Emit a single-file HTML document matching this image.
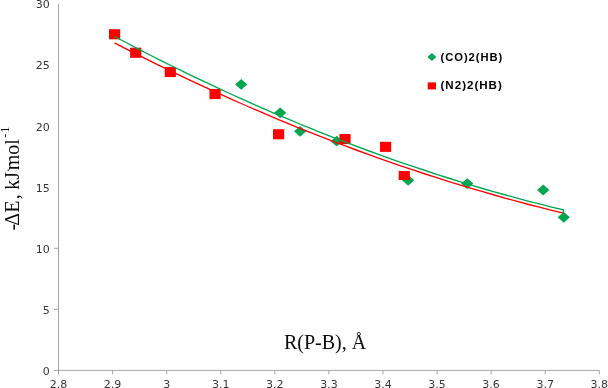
<!DOCTYPE html><html><head><meta charset="utf-8"><title>chart</title><style>html,body{margin:0;padding:0;background:#fff;overflow:hidden}svg{display:block;will-change:transform}</style></head><body>
<svg width="608" height="388" viewBox="0 0 608 388">
<rect width="608" height="388" fill="#fff"/>
<g stroke="#8e8e8e" stroke-width="0.8" fill="none">
<line x1="58.5" y1="4" x2="58.5" y2="370.4"/>
<line x1="58.5" y1="370.4" x2="599.3" y2="370.4"/>
<line x1="58.5" y1="370.4" x2="58.5" y2="374.4"/>
<line x1="112.6" y1="370.4" x2="112.6" y2="374.4"/>
<line x1="166.7" y1="370.4" x2="166.7" y2="374.4"/>
<line x1="220.7" y1="370.4" x2="220.7" y2="374.4"/>
<line x1="274.8" y1="370.4" x2="274.8" y2="374.4"/>
<line x1="328.9" y1="370.4" x2="328.9" y2="374.4"/>
<line x1="383.0" y1="370.4" x2="383.0" y2="374.4"/>
<line x1="437.1" y1="370.4" x2="437.1" y2="374.4"/>
<line x1="491.1" y1="370.4" x2="491.1" y2="374.4"/>
<line x1="545.2" y1="370.4" x2="545.2" y2="374.4"/>
<line x1="599.3" y1="370.4" x2="599.3" y2="374.4"/>
<line x1="54.0" y1="370.4" x2="58.5" y2="370.4"/>
<line x1="54.0" y1="309.3" x2="58.5" y2="309.3"/>
<line x1="54.0" y1="248.3" x2="58.5" y2="248.3"/>
</g>
<g font-family="'DejaVu Sans','Liberation Sans',sans-serif" font-size="11" fill="#222" opacity="0.9">
<text x="49.8" y="374.7" text-anchor="end">0</text>
<text x="49.8" y="313.6" text-anchor="end">5</text>
<text x="49.8" y="252.6" text-anchor="end">10</text>
<text x="49.8" y="191.5" text-anchor="end">15</text>
<text x="49.8" y="130.5" text-anchor="end">20</text>
<text x="49.8" y="69.4" text-anchor="end">25</text>
<text x="49.8" y="8.4" text-anchor="end">30</text>
<text x="58.5" y="388.2" text-anchor="middle">2.8</text>
<text x="112.6" y="388.2" text-anchor="middle">2.9</text>
<text x="166.7" y="388.2" text-anchor="middle">3</text>
<text x="220.7" y="388.2" text-anchor="middle">3.1</text>
<text x="274.8" y="388.2" text-anchor="middle">3.2</text>
<text x="328.9" y="388.2" text-anchor="middle">3.3</text>
<text x="383.0" y="388.2" text-anchor="middle">3.4</text>
<text x="437.1" y="388.2" text-anchor="middle">3.5</text>
<text x="491.1" y="388.2" text-anchor="middle">3.6</text>
<text x="545.2" y="388.2" text-anchor="middle">3.7</text>
<text x="599.3" y="388.2" text-anchor="middle">3.8</text>
</g>
<g fill="#00a650">
<path d="M235.1,84.4 L241.2,79.0 L247.3,84.4 L241.2,89.8 Z"/>
<path d="M274.1,112.8 L280.2,107.4 L286.3,112.8 L280.2,118.2 Z"/>
<path d="M294.0,131.3 L300.1,125.9 L306.2,131.3 L300.1,136.7 Z"/>
<path d="M330.6,141.2 L336.7,135.8 L342.8,141.2 L336.7,146.6 Z"/>
<path d="M402.1,180.3 L408.2,174.9 L414.3,180.3 L408.2,185.7 Z"/>
<path d="M461.1,183.6 L467.2,178.2 L473.3,183.6 L467.2,189.0 Z"/>
<path d="M537.1,190.0 L543.2,184.6 L549.3,190.0 L543.2,195.4 Z"/>
<path d="M557.7,217.3 L563.8,211.9 L569.9,217.3 L563.8,222.7 Z"/>
</g>
<g fill="#ff0000">
<rect x="109.0" y="29.2" width="11.2" height="10.1"/>
<rect x="130.1" y="47.7" width="11.2" height="10.1"/>
<rect x="164.7" y="67.0" width="11.2" height="10.1"/>
<rect x="209.5" y="89.0" width="11.2" height="10.1"/>
<rect x="273.0" y="129.2" width="11.2" height="10.1"/>
<rect x="339.4" y="134.0" width="11.2" height="10.1"/>
<rect x="380.0" y="141.8" width="11.2" height="10.1"/>
<rect x="398.7" y="171.0" width="11.2" height="9"/>
</g>
<polyline points="114.5,42.9 126.0,48.8 137.5,54.7 149.0,60.4 160.5,66.1 172.0,71.7 183.5,77.2 195.1,82.6 206.6,87.9 218.1,93.2 229.6,98.4 241.1,103.5 252.6,108.5 264.1,113.4 275.6,118.3 287.1,123.1 298.6,127.8 310.1,132.4 321.6,136.9 333.1,141.3 344.7,145.7 356.2,150.0 367.7,154.2 379.2,158.3 390.7,162.4 402.2,166.3 413.7,170.2 425.2,174.0 436.7,177.7 448.2,181.3 459.7,184.9 471.2,188.3 482.7,191.7 494.3,195.0 505.8,198.3 517.3,201.4 528.8,204.5 540.3,207.4 551.8,210.3 563.3,213.2" fill="none" stroke="#ff0000" stroke-width="1.35"/>
<polyline points="114.5,36.5 126.0,42.5 137.5,48.6 149.0,54.5 160.5,60.3 172.0,66.0 183.5,71.7 195.1,77.3 206.6,82.7 218.1,88.1 229.6,93.5 241.1,98.7 252.6,103.8 264.1,108.9 275.6,113.8 287.1,118.7 298.6,123.5 310.1,128.2 321.6,132.8 333.1,137.4 344.7,141.8 356.2,146.2 367.7,150.5 379.2,154.6 390.7,158.8 402.2,162.8 413.7,166.7 425.2,170.5 436.7,174.3 448.2,178.0 459.7,181.6 471.2,185.1 482.7,188.5 494.3,191.8 505.8,195.0 517.3,198.2 528.8,201.3 540.3,204.2 551.8,207.1 563.3,209.9 563.3,213" fill="none" stroke="#00a650" stroke-width="1.35"/>
<path d="M427.4,56.9 L431.9,52.9 L436.4,56.9 L431.9,60.9 Z" fill="#00a650"/>
<rect x="427.7" y="82.4" width="8.3" height="7" fill="#ff0000"/>
<g font-family="'Liberation Sans',sans-serif" font-weight="bold" font-size="10.6" letter-spacing="0.9" fill="#000">
<text x="440.5" y="60.6" textLength="62.8" lengthAdjust="spacingAndGlyphs">(CO)2(HB)</text>
<text x="440.5" y="89.4" textLength="62.3" lengthAdjust="spacingAndGlyphs">(N2)2(HB)</text>
</g>
<text x="284" y="349" font-family="'Liberation Serif',serif" font-size="20" fill="#000" opacity="0.95">R(P-B), Å</text>
<text transform="translate(19.2,230.4) rotate(-90)" font-family="'Liberation Serif',serif" font-size="20" fill="#000" opacity="0.95">-<tspan dx="-2">ΔE</tspan><tspan dx="1.5">, </tspan><tspan dx="-0.5">kJ</tspan><tspan font-size="12" dy="-9.8">.</tspan><tspan dy="9.8" dx="-1.5">mol</tspan><tspan font-size="12" dy="-9.8" dx="1.5">-</tspan><tspan font-size="12" dx="1">1</tspan></text>
</svg></body></html>
